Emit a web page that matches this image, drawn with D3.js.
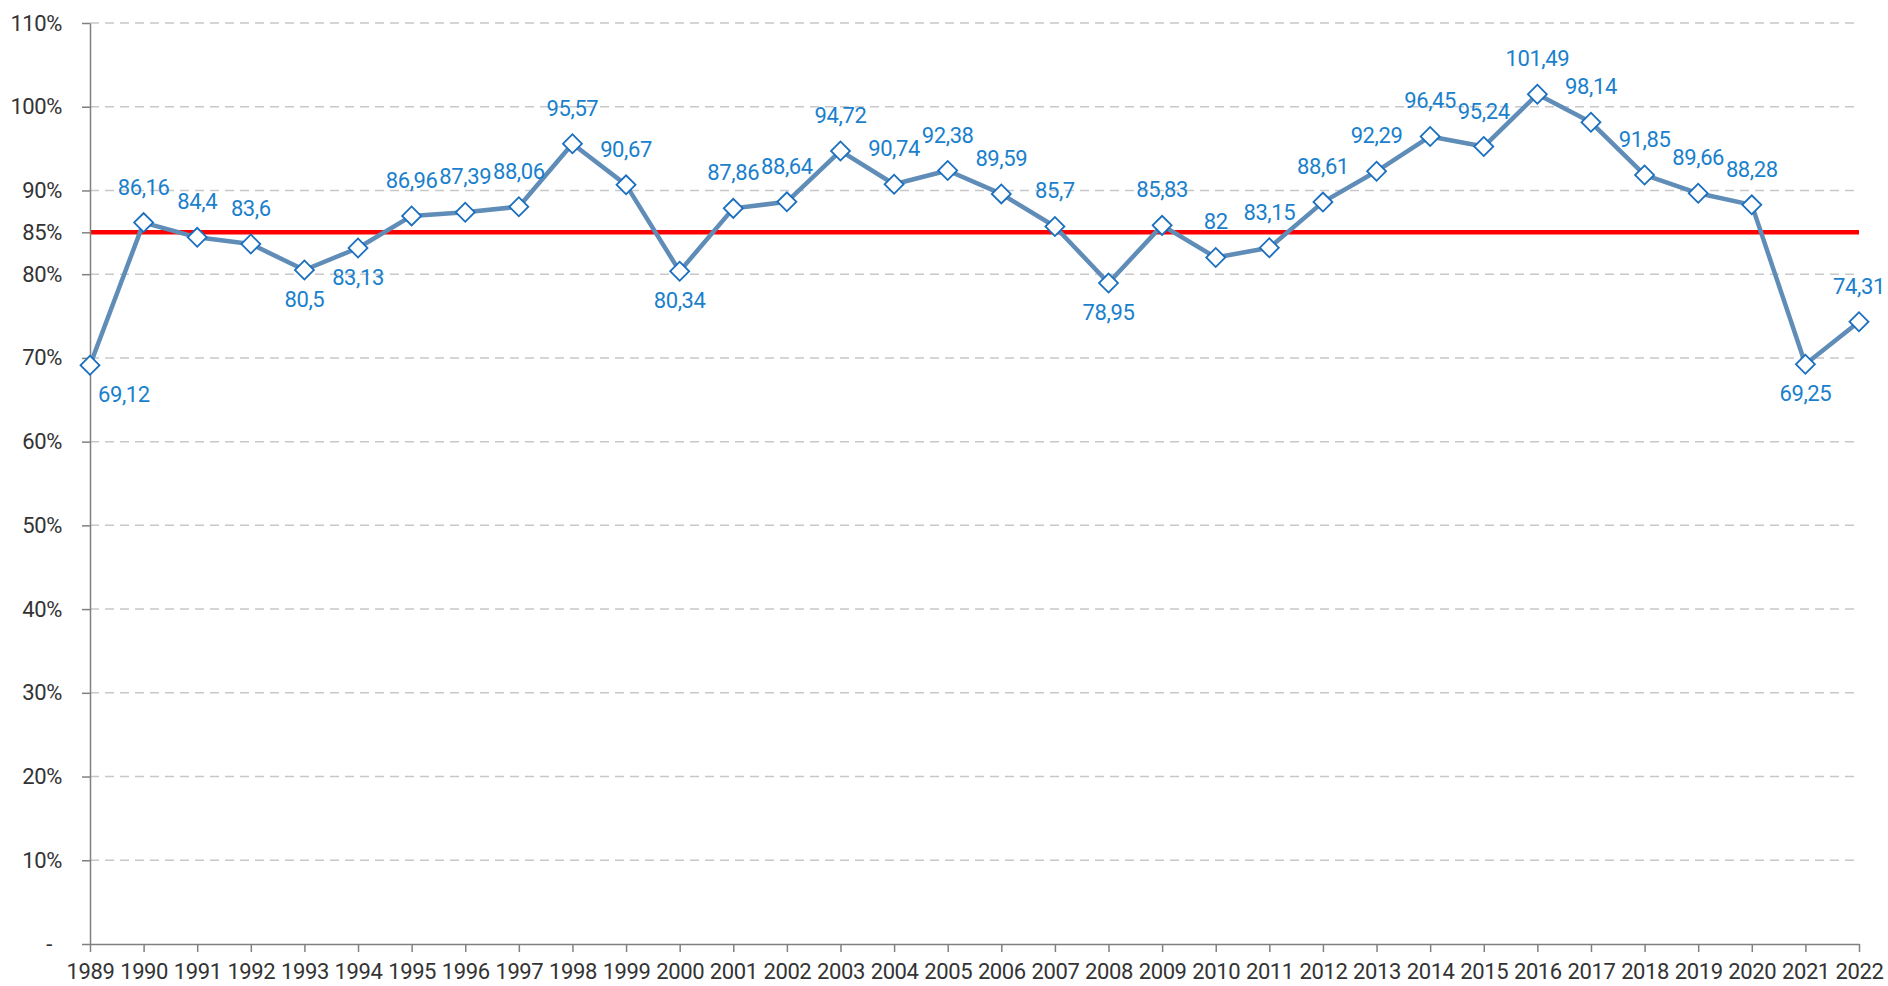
<!DOCTYPE html>
<html>
<head>
<meta charset="utf-8">
<script src="https://cdn.jsdelivr.net/npm/d3@7"></script>
<style>
  body { margin: 0; background: #fff; }
  svg { display: block; }
  text { font-family: "Roboto", "Liberation Sans", sans-serif; letter-spacing: -0.4px; }
  .axis text { fill: #333; font-size: 22px; }
  .axis path, .axis line { stroke: #808080; stroke-width: 1.5; }
</style>
</head>
<body>
<div id="chart"></div>
<script>
const years = [1989, 1990, 1991, 1992, 1993, 1994, 1995, 1996, 1997, 1998, 1999, 2000,
  2001, 2002, 2003, 2004, 2005, 2006, 2007, 2008, 2009, 2010, 2011, 2012, 2013,
  2014, 2015, 2016, 2017, 2018, 2019, 2020, 2021, 2022];
const values = [69.12, 86.16, 84.4, 83.6, 80.5, 83.13, 86.96, 87.39, 88.06, 95.57, 90.67, 80.34,
  87.86, 88.64, 94.72, 90.74, 92.38, 89.59, 85.7, 78.95, 85.83, 82, 83.15, 88.61, 92.29,
  96.45, 95.24, 101.49, 98.14, 91.85, 89.66, 88.28, 69.25, 74.31];
// years whose value label sits under the marker
const labelsBelow = [1989, 1993, 1994, 2000, 2008, 2021];
const yTicks = [0, 10, 20, 30, 40, 50, 60, 70, 80, 85, 90, 100, 110];
const gridTicks = [10, 20, 30, 40, 50, 60, 70, 80, 90, 100, 110];
const target = 85;

const margin = { top: 23, right: 29, bottom: 42, left: 90 };
const width = 1888 - margin.left - margin.right;
const height = 986 - margin.top - margin.bottom;

const svg = d3.select("#chart").append("svg")
  .attr("width", 1888)
  .attr("height", 986);

const g = svg.append("g")
  .attr("transform", `translate(${margin.left},${margin.top})`);

const x = d3.scalePoint().domain(years).range([0, width]).padding(0);
const y = d3.scaleLinear().domain([0, 110]).range([height, 0]);

// dashed gridlines
g.selectAll(".grid")
  .data(gridTicks)
  .join("line")
  .attr("class", "grid")
  .attr("x1", 0)
  .attr("x2", width)
  .attr("y1", (d) => y(d))
  .attr("y2", (d) => y(d))
  .attr("stroke", "#c8c8c8")
  .attr("stroke-width", 1.5)
  .attr("stroke-dasharray", "9,6");

// target line
g.append("line")
  .attr("x1", 0)
  .attr("x2", width)
  .attr("y1", y(target))
  .attr("y2", y(target))
  .attr("stroke", "#ff0000")
  .attr("stroke-width", 4.5);

const yAxis = g.append("g")
  .attr("class", "axis")
  .call(d3.axisLeft(y).tickValues(yTicks).tickSize(8).tickSizeOuter(0).tickPadding(20)
    .tickFormat((d) => (d === 0 ? "-" : d + "%")));
yAxis.selectAll(".tick text").filter((d) => d === 0).attr("dx", -10);

g.append("g")
  .attr("class", "axis")
  .attr("transform", `translate(0,${height})`)
  .call(d3.axisBottom(x).tickSize(8).tickSizeOuter(0).tickPadding(11));

const pts = years.map((yr, i) => ({ year: yr, value: values[i] }));

g.append("path")
  .datum(pts)
  .attr("fill", "none")
  .attr("stroke", "#5f8db8")
  .attr("stroke-width", 4.5)
  .attr("stroke-linejoin", "round")
  .attr("d", d3.line().x((d) => x(d.year)).y((d) => y(d.value)));

g.selectAll(".marker")
  .data(pts)
  .join("path")
  .attr("class", "marker")
  .attr("transform", (d) => `translate(${x(d.year)},${y(d.value)}) rotate(45)`)
  .attr("d", d3.symbol().type(d3.symbolSquare).size(180))
  .attr("fill", "#fff")
  .attr("stroke", "#1a6fbf")
  .attr("stroke-width", 1.8);

g.selectAll(".val")
  .data(pts)
  .join("text")
  .attr("class", "val")
  .attr("x", (d) => x(d.year) + (d.year === years[0] ? 8 : 0))
  .attr("y", (d) => y(d.value) + (labelsBelow.includes(d.year) ? 37 : -28))
  .attr("text-anchor", (d) => (d.year === years[0] ? "start" : "middle"))
  .style("font-size", "22px")
  .style("fill", "#1a7fcc")
  .text((d) => String(d.value).replace(".", ","));
</script>
</body>
</html>
